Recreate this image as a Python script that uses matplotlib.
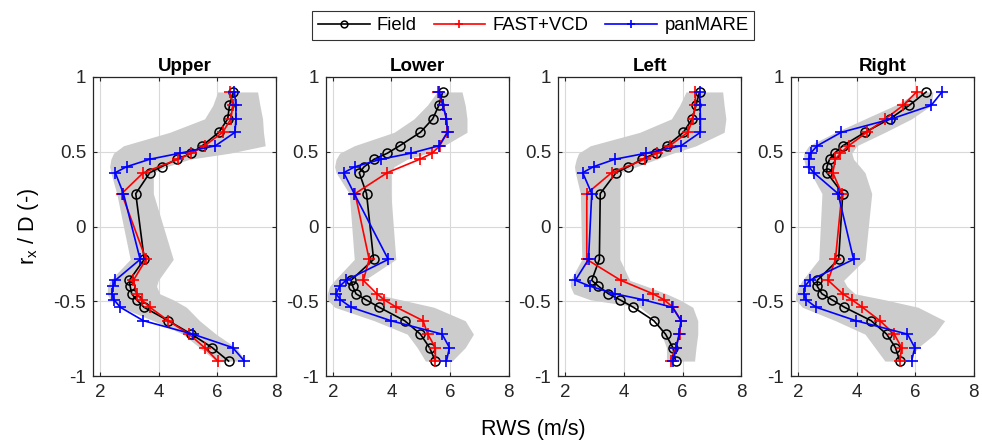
import matplotlib.pyplot as plt
import numpy as np

plt.rcParams['font.family'] = ['Liberation Sans', 'DejaVu Sans']

# radial positions r_x / D
heights = [0.9, 0.81, 0.72, 0.63, 0.54, 0.49, 0.45, 0.40, 0.36, 0.22,
           -0.22, -0.36, -0.40, -0.45, -0.49, -0.54, -0.63, -0.72, -0.81, -0.9]
# FAST+VCD has no points at +/-0.40
heights_fast = [0.9, 0.81, 0.72, 0.63, 0.54, 0.49, 0.45, 0.36, 0.22,
                -0.22, -0.36, -0.45, -0.49, -0.54, -0.63, -0.72, -0.81, -0.9]

titles = ['Upper', 'Lower', 'Left', 'Right']

field_upper = [6.54, 6.41, 6.35, 6.05, 5.48, 5.11, 4.62, 4.09, 3.69, 3.21,
               3.50, 2.99, 3.02, 3.07, 3.24, 3.49, 4.32, 5.11, 5.82, 6.38]
field_lower = [5.75, 5.62, 5.41, 4.99, 4.28, 3.86, 3.41, 3.07, 2.90, 3.15,
               3.39, 2.62, 2.68, 2.79, 3.13, 3.58, 4.45, 4.99, 5.30, 5.50]
field_left = [6.58, 6.46, 6.33, 6.03, 5.47, 5.08, 4.62, 4.15, 3.73, 3.19,
              3.16, 2.90, 3.13, 3.47, 3.86, 4.32, 5.02, 5.42, 5.67, 5.76]
field_right = [6.38, 5.80, 5.14, 4.29, 3.53, 3.25, 3.08, 2.99, 2.99, 3.53,
               3.39, 2.66, 2.66, 2.82, 3.16, 3.59, 4.50, 5.03, 5.33, 5.48]

fast_upper = [6.43, 6.52, 6.46, 6.18, 5.56, 5.11, 4.66, 3.47, 2.73,
              3.56, 3.13, 3.24, 3.41, 3.69, 4.32, 5.03, 5.56, 6.01]
fast_lower = [5.58, 5.76, 5.88, 5.90, 5.65, 5.39, 4.97, 3.86, 2.76,
              3.24, 3.04, 3.50, 3.75, 4.17, 5.08, 5.24, 5.50, 5.50]
fast_left = [6.44, 6.44, 6.35, 6.18, 5.56, 5.13, 4.71, 3.58, 2.73,
             2.73, 3.89, 4.99, 5.37, 5.67, 5.95, 5.90, 5.76, 5.59]
fast_right = [6.05, 5.59, 4.99, 4.35, 3.73, 3.45, 3.28, 3.19, 3.50,
              3.28, 3.03, 3.53, 3.84, 4.20, 4.80, 5.29, 5.54, 5.48]

pan_upper = [6.58, 6.63, 6.63, 6.60, 5.93, 4.71, 3.69, 2.90, 2.51, 2.79,
             3.36, 2.51, 2.43, 2.40, 2.47, 2.68, 3.47, 5.16, 6.52, 6.92]
pan_lower = [5.64, 5.76, 5.88, 5.92, 5.62, 4.66, 3.64, 2.76, 2.37, 2.73,
             3.89, 2.45, 2.23, 2.11, 2.26, 2.62, 3.98, 5.73, 5.98, 5.88]
pan_left = [6.58, 6.60, 6.61, 6.61, 5.95, 4.75, 3.69, 2.96, 2.59, 2.90,
            2.79, 2.34, 2.85, 3.69, 4.66, 5.65, 5.95, 5.88, 5.79, 5.67]
pan_right = [6.92, 6.55, 5.20, 3.48, 2.66, 2.43, 2.37, 2.37, 2.54, 3.37,
             3.90, 2.40, 2.24, 2.20, 2.28, 2.62, 3.98, 5.74, 5.99, 5.88]

# shaded spread of field data (low / high edge)
band_lo_upper = [6.01, 5.84, 5.56, 4.37, 2.79, 2.45, 2.36, 2.32, 2.36, 2.56,
                 3.02, 2.34, 2.25, 2.23, 2.34, 2.68, 3.81, 4.82, 5.39, 5.95]
band_hi_upper = [7.37, 7.45, 7.54, 7.57, 7.63, 6.41, 5.05, 4.26, 3.81, 3.81,
                 4.49, 3.98, 3.92, 4.03, 4.49, 4.94, 5.39, 5.95, 6.63, 6.97]
band_lo_lower = [5.56, 5.22, 4.77, 4.09, 2.73, 2.23, 2.11, 2.06, 2.11, 2.56,
                 2.73, 2.06, 1.89, 1.81, 1.81, 2.06, 3.41, 4.54, 4.88, 5.16]
band_hi_lower = [6.41, 6.52, 6.58, 6.58, 5.79, 5.22, 4.54, 4.09, 3.98, 3.98,
                 4.15, 3.07, 3.19, 3.41, 4.32, 5.45, 6.52, 6.80, 6.52, 6.07]
band_lo_left = [6.12, 5.90, 5.62, 4.54, 2.85, 2.45, 2.37, 2.31, 2.34, 2.51,
                2.56, 2.17, 2.17, 2.28, 2.85, 4.54, 5.11, 5.28, 5.45, 5.45]
band_hi_left = [7.37, 7.42, 7.48, 7.42, 6.46, 5.67, 5.11, 4.43, 3.86, 3.86,
                3.86, 4.20, 4.77, 5.45, 5.90, 6.35, 6.52, 6.52, 6.46, 6.41]
band_lo_right = [6.10, 5.31, 4.29, 3.28, 2.37, 2.20, 2.20, 2.26, 2.43, 2.82,
                 2.71, 2.15, 2.03, 1.92, 1.92, 2.15, 3.28, 4.29, 4.63, 4.97]
band_hi_right = [6.61, 6.55, 5.88, 4.97, 4.01, 3.84, 3.90, 4.12, 4.29, 4.52,
                 4.29, 3.56, 3.67, 3.95, 4.97, 6.10, 7.01, 6.67, 6.10, 5.76]

field = [field_upper, field_lower, field_left, field_right]
fast = [fast_upper, fast_lower, fast_left, fast_right]
pan = [pan_upper, pan_lower, pan_left, pan_right]
band_lo = [band_lo_upper, band_lo_lower, band_lo_left, band_lo_right]
band_hi = [band_hi_upper, band_hi_lower, band_hi_left, band_hi_right]

fig = plt.figure(figsize=(9.82, 4.45), dpi=100)
axes = []
for i in range(4):
    ax = fig.add_axes([0.0947 + i * 0.2368, 0.155, 0.1864, 0.672])
    axes.append(ax)

    ax.fill_betweenx(heights, band_lo[i], band_hi[i], color=(0.8, 0.8, 0.8),
                     linewidth=0, zorder=1)
    l1, = ax.plot(field[i], heights, '-o', color='k', lw=1.2, ms=6.5,
                  mfc='none', mew=1.1, label='Field', zorder=3)
    l2, = ax.plot(fast[i], heights_fast, '-+', color='r', lw=1.2, ms=8.5,
                  mew=1.2, label='FAST+VCD', zorder=4)
    l3, = ax.plot(pan[i], heights, '-+', color='b', lw=1.2, ms=8.5,
                  mew=1.2, label='panMARE', zorder=5)

    ax.set_xlim(1.75, 8)
    ax.set_ylim(-1, 1)
    ax.set_xticks([2, 4, 6, 8])
    ax.set_yticks([-1, -0.5, 0, 0.5, 1])
    ax.set_yticklabels(['-1', '-0.5', '0', '0.5', '1'])
    ax.grid(True, color=(0.85, 0.85, 0.85), lw=0.8, zorder=0)
    ax.set_axisbelow(True)
    ax.tick_params(direction='in', labelsize=13.5, length=3,
                   colors=(0.15, 0.15, 0.15), top=True, right=True)
    ax.tick_params(axis='x', pad=6)
    ax.tick_params(axis='y', pad=5)
    for s in ax.spines.values():
        s.set_color((0.15, 0.15, 0.15))
        s.set_linewidth(0.9)
    ax.set_title(titles[i], fontsize=13.5, fontweight='bold', pad=4)

axes[0].set_ylabel(r'r$_\mathregular{x}$ / D (-)', fontsize=15.5, labelpad=9)
fig.text(0.543, 0.034, 'RWS (m/s)', ha='center', va='center', fontsize=15.5)

leg = fig.legend(handles=[l1, l2, l3], loc='upper center',
                 bbox_to_anchor=(0.543, 0.995), ncol=3, fontsize=13.3,
                 frameon=True, fancybox=False, edgecolor='k',
                 handlelength=2.8, columnspacing=0.9, handletextpad=0.4,
                 borderpad=0.3, markerscale=0.75)
leg.get_frame().set_linewidth(0.8)

fig.savefig('out.png', dpi=100)
